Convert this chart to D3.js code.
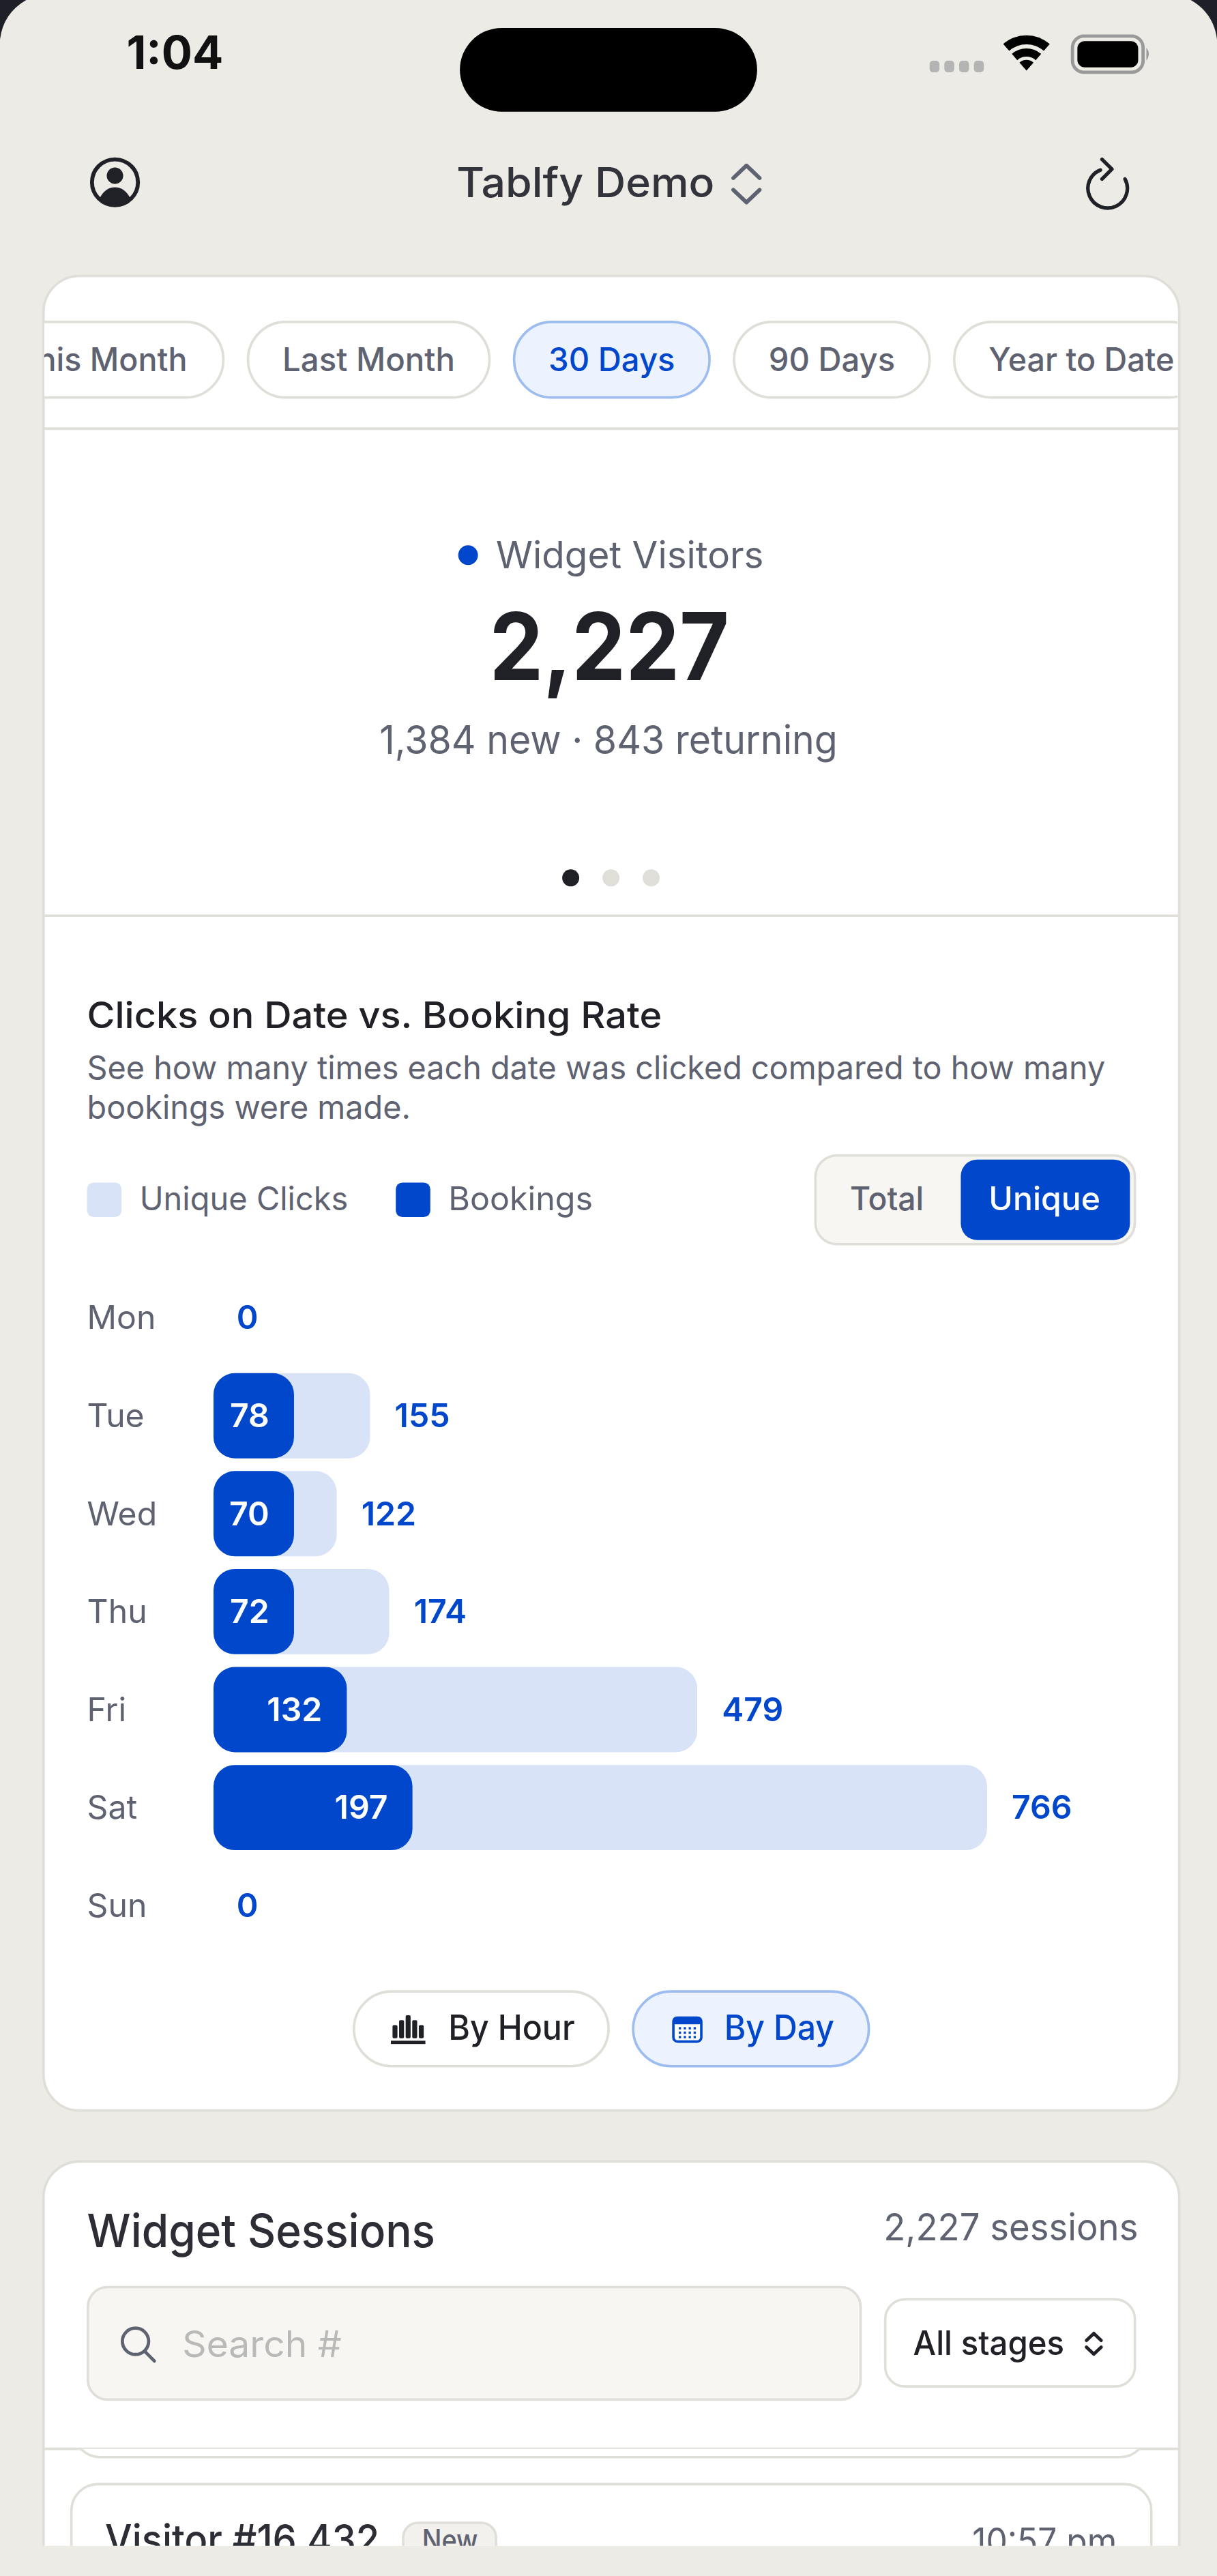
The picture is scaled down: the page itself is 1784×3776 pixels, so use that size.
<!DOCTYPE html>
<html>
<head>
<meta charset="utf-8">
<title>Tablfy Demo</title>
<script src="https://cdn.jsdelivr.net/npm/d3@7"></script>
<style>
  html, body { margin: 0; padding: 0; background: #1f2027; }
  svg { display: block; }
  text { font-family: Inter, "Liberation Sans", Arial, sans-serif; }
</style>
</head>
<body>
<div id="chart"></div>
<script>
// chart values
var days = ["Mon", "Tue", "Wed", "Thu", "Fri", "Sat", "Sun"];
var uniqueClicks = [0, 155, 122, 174, 479, 766, 0];
var bookings = [0, 78, 70, 72, 132, 197, 0];

// the rest of the screen
var rangePills = ["This Month", "Last Month", "30 Days", "90 Days", "Year to Date"];
var legendLabels = ["Unique Clicks", "Bookings"];
var toggleLabels = ["Total", "Unique"];

var blue = "#0047cc", pale = "#d8e3f7", ink = "#202127", grey = "#5f6270",
    line = "#dfded8", page = "#ecebe6", soft = "#f7f6f3", activeFill = "#edf3fe", activeLine = "#9dbcef";

// drawn in the phone's own units, 741 wide
var svg = d3.select("#chart").append("svg")
  .attr("width", 1784)
  .attr("height", 3776)
  .attr("viewBox", "0 0 741 1568.4");

function box(p, x0, y0, x1, y1, r, fill, stroke) {
  return p.append("rect")
    .attr("x", x0).attr("y", y0)
    .attr("width", x1 - x0).attr("height", y1 - y0)
    .attr("rx", r)
    .attr("fill", fill)
    .attr("stroke", stroke || "none")
    .attr("stroke-width", stroke ? 1.5 : 0);
}

// w is the width the text takes in the picture
function label(p, x, y, str, size, fill, weight, anchor, w) {
  var t = p.append("text")
    .attr("x", x).attr("y", y)
    .attr("font-size", size)
    .attr("fill", fill)
    .attr("font-weight", weight || 400)
    .attr("text-anchor", anchor || "start")
    .text(str);
  if (w) t.attr("textLength", w).attr("lengthAdjust", "spacingAndGlyphs");
  return t;
}

function chevrons(p, cx, cy, size, color, width) {
  p.append("path")
    .attr("d", "M" + (cx - size) + "," + (cy - size * 0.45) + "L" + cx + "," + (cy - size * 1.4) + "L" + (cx + size) + "," + (cy - size * 0.45)
      + "M" + (cx - size) + "," + (cy + size * 0.45) + "L" + cx + "," + (cy + size * 1.4) + "L" + (cx + size) + "," + (cy + size * 0.45))
    .attr("fill", "none").attr("stroke", color).attr("stroke-width", width).attr("stroke-linecap", "round").attr("stroke-linejoin", "round");
}

// background with the rounded screen corners
svg.append("path")
  .attr("d", "M0,24 Q2,8 16,0 L725,0 Q739,8 741,24 L741,1568.4 L0,1568.4 Z")
  .attr("fill", page);

// status bar
label(svg, 77, 42, "1:04", 28, "#111", 700, "start", 59);
box(svg, 280, 17, 461, 68, 25.5, "#000");
svg.append("g").selectAll("rect").data(d3.range(4)).enter().append("rect")
  .attr("x", function(d) { return 566 + d * 9; }).attr("y", 37)
  .attr("width", 6).attr("height", 7).attr("rx", 2).attr("fill", "#b4b4b4");
// wifi fan: wedge with two rings cut out
var wifi = svg.append("g").attr("transform", "translate(625,43)");
var wifiArc = d3.arc().startAngle(-0.72).endAngle(0.72);
[[16, 21.5], [8.5, 13.5]].forEach(function(r) {
  wifi.append("path").attr("d", wifiArc({innerRadius: r[0], outerRadius: r[1]})).attr("fill", "#000");
});
wifi.append("path").attr("d", wifiArc({innerRadius: 0, outerRadius: 6.5})).attr("fill", "#000");
box(svg, 653, 22, 696, 44, 7, "none", "#999").attr("stroke-width", 2);
box(svg, 656, 25, 693, 41, 4.5, "#000");
svg.append("path").attr("d", "M698,29 Q701,33 698,37 Z").attr("fill", "#999");

// header
var userIcon = svg.append("g").attr("transform", "translate(70,111)");
userIcon.append("circle").attr("r", 14).attr("fill", "none").attr("stroke", ink).attr("stroke-width", 2.4);
userIcon.append("circle").attr("cy", -4).attr("r", 5).attr("fill", ink);
userIcon.append("path").attr("d", "M-9.5,10 Q-6,3 0,3 Q6,3 9.5,10 Q0,16.5 -9.5,10 Z").attr("fill", ink);
label(svg, 278, 120, "Tablfy Demo", 25, "#33343b", 500, "start", 157);
chevrons(svg, 454.5, 112, 8, grey, 2.4);
svg.append("path")
  .attr("d", "M670,103.5 A12,12 0 1 0 685,109")
  .attr("fill", "none").attr("stroke", ink).attr("stroke-width", 2.2).attr("stroke-linecap", "round");
svg.append("path")
  .attr("d", "M671,97 L677,103 L671,109")
  .attr("fill", "none").attr("stroke", ink).attr("stroke-width", 2.2).attr("stroke-linecap", "round").attr("stroke-linejoin", "round");

// first card
box(svg, 26.5, 168, 718, 1285, 22, "#fff", line);
svg.append("clipPath").attr("id", "pillClip").append("rect")
  .attr("x", 27).attr("y", 180).attr("width", 690).attr("height", 80);
var pills = svg.append("g").attr("clip-path", "url(#pillClip)");
var pillLefts = [-20, 151, 313, 447, 581];
var pillRights = [136, 298, 432, 566, 735];
var pillTextX = [10, 172, 334, 468, 602];
var pillTextW = [104, 105, 77, 77, 113];
rangePills.forEach(function(d, i) {
  var on = d === "30 Days";
  box(pills, pillLefts[i], 196, pillRights[i], 242, 23, on ? activeFill : "#fff", on ? activeLine : line);
  label(pills, pillTextX[i], 226, d, 20, on ? blue : grey, 500, "start", pillTextW[i]);
});
svg.append("line").attr("x1", 27).attr("x2", 718).attr("y1", 261).attr("y2", 261).attr("stroke", line).attr("stroke-width", 1.5);

// hero number
svg.append("circle").attr("cx", 285).attr("cy", 338).attr("r", 6).attr("fill", blue);
label(svg, 302, 346, "Widget Visitors", 23, grey, 400, "start", 163);
label(svg, 371, 414, "2,227", 57, ink, 700, "middle", 146);
label(svg, 231, 459, "1,384 new · 843 returning", 24, grey, 400, "start", 279);
[347.5, 372, 396.5].forEach(function(cx, i) {
  svg.append("circle").attr("cx", cx).attr("cy", 534.5).attr("r", 5.2).attr("fill", i === 0 ? ink : "#dfded8");
});
svg.append("line").attr("x1", 27).attr("x2", 718).attr("y1", 557.5).attr("y2", 557.5).attr("stroke", line).attr("stroke-width", 1.5);

// chart heading
label(svg, 53, 626, "Clicks on Date vs. Booking Rate", 22, ink, 500, "start", 350);
label(svg, 53, 657, "See how many times each date was clicked compared to how many", 20, grey, 400, "start", 620);
label(svg, 53, 681, "bookings were made.", 20, grey, 400, "start", 197);

// legend
box(svg, 53, 720, 74, 741, 4, pale);
label(svg, 85, 737, legendLabels[0], 20, grey, 400, "start", 127);
box(svg, 241, 720, 262, 741, 4, blue);
label(svg, 273, 737, legendLabels[1], 20, grey, 400, "start", 88);

// total / unique toggle
box(svg, 496.5, 703.5, 691, 757.5, 13, soft, line);
box(svg, 585, 706, 688, 755, 10, blue);
label(svg, 540, 737, toggleLabels[0], 20, grey, 500, "middle", 45);
label(svg, 636, 737, toggleLabels[1], 20, "#fff", 500, "middle", 68);

// the bars
var x = d3.scaleLinear().domain([0, 766]).range([130, 601]);
var y = d3.scaleBand().domain(days).range([772.5, 1190]).paddingInner(0.13).paddingOuter(0.065);
var barHeight = y.bandwidth();
var minBooked = 49; // short booking bars stop growing smaller so the number fits

var chart = svg.append("g");

var yAxis = chart.append("g")
  .attr("transform", "translate(53,0)")
  .call(d3.axisLeft(y).tickSize(0).tickPadding(0));
yAxis.select(".domain").remove();
yAxis.selectAll("text")
  .attr("text-anchor", "start")
  .attr("font-family", "Inter, \"Liberation Sans\", Arial, sans-serif")
  .attr("font-size", 20)
  .attr("fill", grey)
  .attr("x", 0)
  .attr("dy", "0.35em");

var rows = chart.selectAll("g.row")
  .data(days.map(function(d, i) { return {day: d, clicks: uniqueClicks[i], booked: bookings[i]}; }))
  .enter().append("g")
    .attr("class", "row");

rows.filter(function(d) { return d.clicks > 0; }).append("rect")
  .attr("x", x(0))
  .attr("y", function(d) { return y(d.day); })
  .attr("width", function(d) { return x(d.clicks) - x(0); })
  .attr("height", barHeight)
  .attr("rx", 13)
  .attr("fill", pale);

rows.filter(function(d) { return d.booked > 0; }).append("rect")
  .attr("x", x(0))
  .attr("y", function(d) { return y(d.day); })
  .attr("width", function(d) { return Math.max(x(d.booked) - x(0), minBooked); })
  .attr("height", barHeight)
  .attr("rx", 13)
  .attr("fill", blue);

rows.filter(function(d) { return d.booked > 0; }).append("text")
  .attr("x", function(d) { return x(0) + Math.max(x(d.booked) - x(0), minBooked) - 15; })
  .attr("y", function(d) { return y(d.day) + barHeight / 2; })
  .attr("dy", "0.35em")
  .attr("text-anchor", "end")
  .attr("font-size", 20)
  .attr("font-weight", 600)
  .attr("fill", "#fff")
  .text(function(d) { return d.booked; });

rows.append("text")
  .attr("x", function(d) { return x(d.clicks) + (d.clicks > 0 ? 15 : 14); })
  .attr("y", function(d) { return y(d.day) + barHeight / 2; })
  .attr("dy", "0.35em")
  .attr("font-size", 20)
  .attr("font-weight", 600)
  .attr("fill", blue)
  .text(function(d) { return d.clicks; });

// by hour / by day
box(svg, 215.5, 1212.5, 370.5, 1258, 23, "#fff", line);
var hourIcon = svg.append("g").attr("fill", ink);
[[239, 1233, 1241], [243, 1230, 1241], [247, 1227, 1241], [251, 1230, 1241], [255, 1233, 1241]].forEach(function(b) {
  hourIcon.append("rect").attr("x", b[0]).attr("y", b[1]).attr("width", 3).attr("height", b[2] - b[1]).attr("rx", 0.8);
});
hourIcon.append("rect").attr("x", 238).attr("y", 1242.5).attr("width", 21).attr("height", 2);
label(svg, 273, 1242, "By Hour", 21, ink, 500, "start", 77);

box(svg, 385.5, 1212.5, 529, 1258, 23, activeFill, activeLine);
box(svg, 410, 1228.5, 427, 1243, 2.5, "#fff", blue);
box(svg, 409.5, 1228, 427.5, 1232.5, 2, blue);
var calendarDots = svg.append("g").attr("fill", blue);
d3.range(3).forEach(function(r) {
  d3.range(4).forEach(function(c) {
    calendarDots.append("rect").attr("x", 413.3 + c * 3).attr("y", 1234.2 + r * 2.7).attr("width", 1.4).attr("height", 1.4);
  });
});
label(svg, 441, 1242, "By Day", 21, blue, 500, "start", 67);

// second card, cut off by the bottom of the screen
svg.append("clipPath").attr("id", "sessionClip").append("rect")
  .attr("x", 20).attr("y", 1300).attr("width", 705).attr("height", 250);
var sessions = svg.append("g").attr("clip-path", "url(#sessionClip)");
box(sessions, 26.5, 1316, 718, 1620, 22, "#fff", line);
label(sessions, 53, 1368, "Widget Sessions", 28, "#2d2e35", 500, "start", 212);
label(sessions, 693, 1364, "2,227 sessions", 23, grey, 400, "end", 155);
box(sessions, 53.5, 1392.5, 524, 1461, 12, soft, line);
sessions.append("circle").attr("cx", 82.5).attr("cy", 1425.5).attr("r", 8).attr("fill", "none").attr("stroke", grey).attr("stroke-width", 2);
sessions.append("line").attr("x1", 88).attr("y1", 1431.5).attr("x2", 94).attr("y2", 1437.5).attr("stroke", grey).attr("stroke-width", 2).attr("stroke-linecap", "round");
label(sessions, 111, 1435, "Search #", 22, "#b9b9b7", 400, "start", 97);
box(sessions, 539, 1400, 691, 1453, 12, "#fff", line);
label(sessions, 556, 1434, "All stages", 20.5, ink, 500, "start", 92);
chevrons(sessions, 666, 1427, 4.5, ink, 2);

// previous row peeking out under the divider, then the next row
svg.append("clipPath").attr("id", "peekClip").append("rect")
  .attr("x", 27).attr("y", 1491).attr("width", 690).attr("height", 10);
box(svg.append("g").attr("clip-path", "url(#peekClip)"), 45, 1440, 698, 1496, 16, "#fff", line);
sessions.append("line").attr("x1", 27).attr("x2", 718).attr("y1", 1491).attr("y2", 1491).attr("stroke", line).attr("stroke-width", 1.5);
box(sessions, 43.5, 1512.5, 701, 1640, 16, "#fff", line);
label(sessions, 64, 1555, "Visitor #16,432", 25, "#2d2e35", 500, "start", 167);
box(sessions, 245.5, 1536, 302, 1580, 9, "#f2f1ed", line);
label(sessions, 257, 1553, "New", 18, grey, 500, "start", 34);
label(sessions, 680, 1555, "10:57 pm", 22, grey, 400, "end", 88);
</script>
</body>
</html>
